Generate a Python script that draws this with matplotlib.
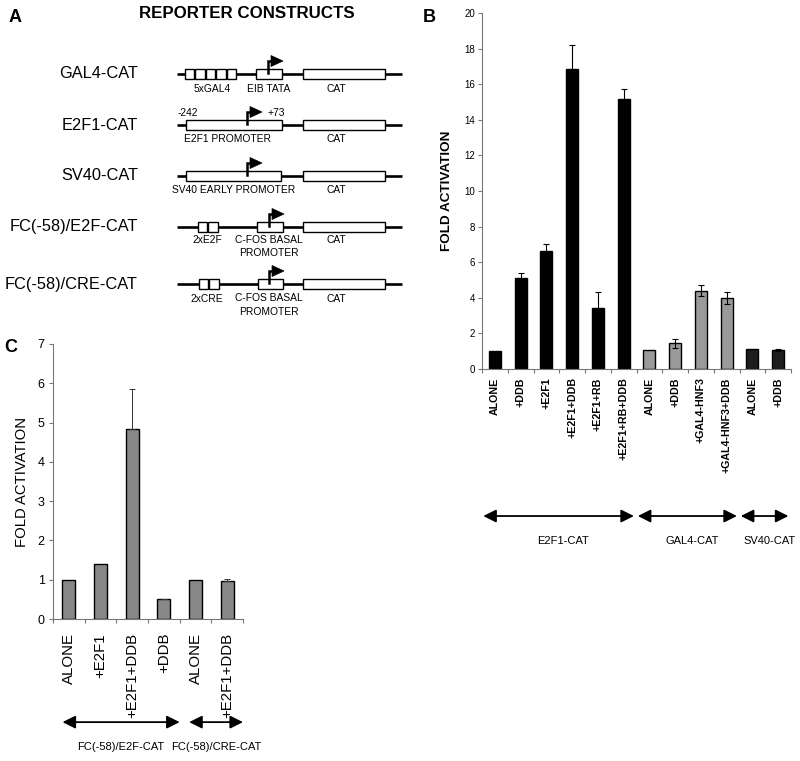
import matplotlib
matplotlib.use('Agg')
import matplotlib.pyplot as plt
from matplotlib.patches import Rectangle, Polygon
from matplotlib.transforms import blended_transform_factory

plt.rcParams['font.family'] = ['Liberation Sans', 'DejaVu Sans']
NARROW = ['Liberation Sans Narrow', 'Liberation Sans', 'DejaVu Sans']

# panel B data
b_labels = ['ALONE', '+DDB', '+E2F1', '+E2F1+DDB', '+E2F1+RB', '+E2F1+RB+DDB',
            'ALONE', '+DDB', '+GAL4-HNF3', '+GAL4-HNF3+DDB', 'ALONE', '+DDB']
b_values = [1.0, 5.1, 6.65, 16.85, 3.4, 15.15, 1.05, 1.45, 4.4, 4.0, 1.1, 1.05]
b_errors = [0, 0.3, 0.35, 1.35, 0.9, 0.6, 0, 0.25, 0.3, 0.35, 0, 0.05]
b_groups = ['E2F1-CAT', 'GAL4-CAT', 'SV40-CAT']
b_group_sizes = [6, 4, 2]
b_group_colors = ['#000000', '#9a9a9a', '#1e1e1e']

# panel C data
c_labels = ['ALONE', '+E2F1', '+E2F1+DDB', '+DDB', 'ALONE', '+E2F1+DDB']
c_values = [1.0, 1.4, 4.83, 0.5, 1.0, 0.97]
c_errors = [0, 0, 1.02, 0.02, 0, 0.05]
c_groups = ['FC(-58)/E2F-CAT', 'FC(-58)/CRE-CAT']
c_group_sizes = [4, 2]

# panel A constructs (schematic)
construct_names = ['GAL4-CAT', 'E2F1-CAT', 'SV40-CAT', 'FC(-58)/E2F-CAT', 'FC(-58)/CRE-CAT']


fig = plt.figure(figsize=(8, 7.61), dpi=100)

# ---- Panel A: drawn in figure pixel space ----
ax_a = fig.add_axes([0, 0, 1, 1])
ax_a.set_xlim(0, 800)
ax_a.set_ylim(761, 0)
ax_a.axis('off')

rows = [
    dict(y=74, sites=(185, 5), prom=(256, 282), arrow=268,
         labels=[('5xGAL4', 212, 89), ('EIB TATA', 269, 89)]),
    dict(y=125, sites=None, prom=(186, 282), arrow=247,
         labels=[('E2F1 PROMOTER', 228, 139)]),
    dict(y=176, sites=None, prom=(186, 281), arrow=247,
         labels=[('SV40 EARLY PROMOTER', 234, 190)]),
    dict(y=227, sites=(198, 2), prom=(257, 283), arrow=269,
         labels=[('2xE2F', 207, 240), ('C-FOS BASAL', 269, 240), ('PROMOTER', 269, 253)]),
    dict(y=284, sites=(199, 2), prom=(258, 283), arrow=269,
         labels=[('2xCRE', 207, 299), ('C-FOS BASAL', 269, 298), ('PROMOTER', 269, 312)]),
]

box_h = 10
small_fs = 7.4
for name, r in zip(construct_names, rows):
    y = r['y']
    ax_a.text(138, y, name, ha='right', va='center', fontsize=11.8)
    ax_a.plot([177, 402], [y, y], color='black', lw=1.9, solid_capstyle='butt', zorder=1)
    if r['sites']:
        x0, n = r['sites']
        for i in range(n):
            ax_a.add_patch(Rectangle((x0 + i * 10.4, y - box_h / 2), 9.4, box_h,
                                     facecolor='white', edgecolor='black', lw=1.0, zorder=2))
    p0, p1 = r['prom']
    ax_a.add_patch(Rectangle((p0, y - box_h / 2), p1 - p0, box_h,
                             facecolor='white', edgecolor='black', lw=1.0, zorder=2))
    ax_a.add_patch(Rectangle((303, y - box_h / 2), 82, box_h,
                             facecolor='white', edgecolor='black', lw=1.0, zorder=2))
    ax_a.text(336, r['labels'][0][2], 'CAT', ha='center', va='center', fontsize=small_fs)
    # transcription start arrow
    ax = r['arrow']
    top = y - 13
    ax_a.plot([ax, ax, ax + 4], [y - 1, top, top], color='black', lw=1.8,
              solid_joinstyle='miter', zorder=3)
    ax_a.add_patch(Polygon([(ax + 3, top - 5.5), (ax + 3, top + 5.5), (ax + 15, top)],
                           closed=True, facecolor='black', edgecolor='black', lw=0.5, zorder=3))
    for txt, lx, ly in r['labels']:
        ax_a.text(lx, ly, txt, ha='center', va='center', fontsize=small_fs)

ax_a.text(178, 113, '-242', ha='left', va='center', fontsize=small_fs)
ax_a.text(267, 113, '+73', ha='left', va='center', fontsize=small_fs)

ax_a.text(247, 14, 'REPORTER CONSTRUCTS', ha='center', va='center',
          fontsize=12.2, fontweight='bold')
ax_a.text(9, 18, 'A', ha='left', va='center', fontsize=13, fontweight='bold')
ax_a.text(423, 17, 'B', ha='left', va='center', fontsize=13, fontweight='bold')
ax_a.text(4, 348, 'C', ha='left', va='center', fontsize=13, fontweight='bold')


def style_axes(ax, n, spine_color='#777777'):
    for s in ('top', 'right'):
        ax.spines[s].set_visible(False)
    for s in ('left', 'bottom'):
        ax.spines[s].set_color(spine_color)
        ax.spines[s].set_linewidth(0.8)
    ax.set_xlim(-0.5, n - 0.5)
    ax.set_xticks([i - 0.5 for i in range(n + 1)], minor=True)
    ax.tick_params(axis='x', which='major', length=0)
    ax.tick_params(axis='x', which='minor', length=3, color=spine_color, width=0.8)
    ax.tick_params(axis='y', length=3, color=spine_color, width=0.8)


def group_arrows(ax, names, sizes, y_arrow, y_text, fs, pad_l, pad_r):
    trans = blended_transform_factory(ax.transData, ax.transAxes)
    start = 0
    for name, size in zip(names, sizes):
        first, last = start, start + size - 1
        ax.annotate('', xy=(first - pad_l, y_arrow), xytext=(last + pad_r, y_arrow),
                    xycoords=trans, textcoords=trans, annotation_clip=False,
                    arrowprops=dict(arrowstyle='<|-|>,head_length=0.7,head_width=0.35',
                                    color='black', lw=1.3, shrinkA=0, shrinkB=0,
                                    mutation_scale=11))
        ax.text((first + last) / 2 + 0.15, y_text, name, transform=trans,
                ha='center', va='center', fontsize=fs, family=NARROW)
        start += size


# ---- Panel B ----
ax_b = fig.add_axes([482 / 800, 1 - 369 / 761, 309 / 800, 356 / 761])
colors_b = []
for col, size in zip(b_group_colors, b_group_sizes):
    colors_b += [col] * size
xb = list(range(len(b_values)))
ax_b.bar(xb, b_values, width=0.46, color=colors_b, edgecolor='black', linewidth=1.0, zorder=2)
eb_x = [x for x, e in zip(xb, b_errors) if e > 0]
eb_v = [v for v, e in zip(b_values, b_errors) if e > 0]
eb_e = [e for e in b_errors if e > 0]
ax_b.errorbar(eb_x, eb_v, yerr=eb_e, fmt='none', ecolor='black', elinewidth=0.8,
              capsize=2.5, capthick=0.8, zorder=3)
style_axes(ax_b, len(b_values))
ax_b.set_ylim(0, 20)
ax_b.set_yticks(range(0, 21, 2))
ax_b.set_xticks(xb)
ax_b.set_xticklabels(b_labels, rotation=90, fontsize=7.7, fontweight='bold', va='top')
ax_b.tick_params(axis='x', which='major', pad=6)
ax_b.tick_params(axis='y', labelsize=7, pad=2)
ax_b.set_ylabel('FOLD ACTIVATION', fontsize=9.7, fontweight='bold', labelpad=8)
group_arrows(ax_b, b_groups, b_group_sizes, -0.413, -0.483, 8, 0.45, 0.4)

# ---- Panel C ----
ax_c = fig.add_axes([53 / 800, 1 - 619 / 761, 190 / 800, 275 / 761])
xc = list(range(len(c_values)))
ax_c.bar(xc, c_values, width=0.42, color='#888888', edgecolor='black', linewidth=1.0, zorder=2)
ec_x = [x for x, e in zip(xc, c_errors) if e > 0]
ec_v = [v for v, e in zip(c_values, c_errors) if e > 0]
ec_e = [e for e in c_errors if e > 0]
ax_c.errorbar(ec_x, ec_v, yerr=[[0] * len(ec_e), ec_e], fmt='none', ecolor='#333333',
              elinewidth=0.7, capsize=2.5, capthick=0.7, zorder=3)
style_axes(ax_c, len(c_values))
ax_c.set_ylim(0, 7)
ax_c.set_yticks(range(0, 8))
ax_c.set_xticks(xc)
ax_c.set_xticklabels(c_labels, rotation=90, fontsize=10.8, va='top')
ax_c.tick_params(axis='x', which='major', pad=10)
ax_c.tick_params(axis='y', labelsize=9, pad=3)
ax_c.set_ylabel('FOLD ACTIVATION', fontsize=10.7, labelpad=6)
group_arrows(ax_c, c_groups, c_group_sizes, -0.375, -0.465, 8, 0.2, 0.5)

fig.savefig('out.png', dpi=100)
